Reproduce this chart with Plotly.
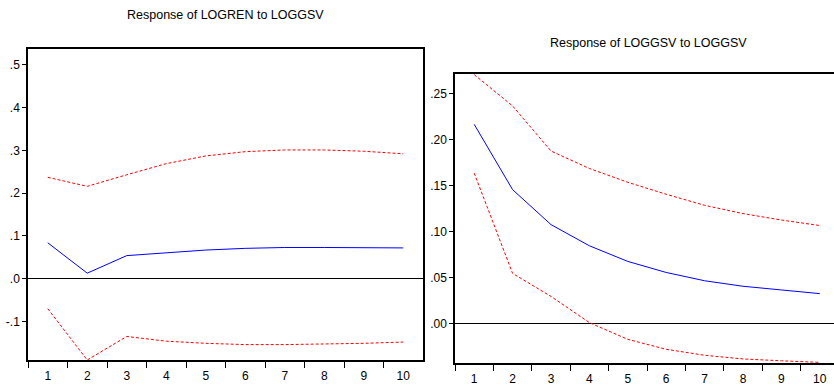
import plotly.graph_objects as go

periods = [str(i) for i in range(1, 11)]

# Response of LOGREN to LOGGSV
ren_resp = [0.084, 0.013, 0.054, 0.061, 0.067, 0.071, 0.073, 0.073, 0.073, 0.072]
ren_upper = [0.237, 0.216, 0.243, 0.269, 0.287, 0.297, 0.301, 0.301, 0.298, 0.292]
ren_lower = [-0.070, -0.190, -0.135, -0.146, -0.151, -0.154, -0.154, -0.153, -0.151, -0.148]

# Response of LOGGSV to LOGGSV
gsv_resp = [0.217, 0.146, 0.108, 0.085, 0.068, 0.056, 0.047, 0.041, 0.037, 0.033]
gsv_upper = [0.271, 0.237, 0.188, 0.169, 0.154, 0.141, 0.129, 0.120, 0.113, 0.107]
gsv_lower = [0.164, 0.055, 0.030, 0.0015, -0.0167, -0.0275, -0.034, -0.038, -0.040, -0.0417]

left_ticks = [-0.1, 0.0, 0.1, 0.2, 0.3, 0.4, 0.5]
left_ticktext = ["-.1", ".0", ".1", ".2", ".3", ".4", ".5"]
right_ticks = [0.0, 0.05, 0.10, 0.15, 0.20, 0.25]
right_ticktext = [".00", ".05", ".10", ".15", ".20", ".25"]

titles = ["Response of LOGREN to LOGGSV", "Response of LOGGSV to LOGGSV"]

W, H = 834, 386
BLUE = "#0000ff"
RED = "#ff0000"
FONT = "Liberation Sans, Arial"

fig = go.Figure()

def add_panel(xa, ya, resp, up, lo):
    fig.add_trace(go.Scatter(x=periods, y=up, mode="lines", xaxis=xa, yaxis=ya,
                             line=dict(color=RED, width=1, dash="3px,2px"), showlegend=False))
    fig.add_trace(go.Scatter(x=periods, y=lo, mode="lines", xaxis=xa, yaxis=ya,
                             line=dict(color=RED, width=1, dash="3px,2px"), showlegend=False))
    fig.add_trace(go.Scatter(x=periods, y=resp, mode="lines", xaxis=xa, yaxis=ya,
                             line=dict(color=BLUE, width=1), showlegend=False))

add_panel("x", "y", ren_resp, ren_upper, ren_lower)
add_panel("x2", "y2", gsv_resp, gsv_upper, gsv_lower)

def px_x(p):
    return p / W

def px_y(p):
    return (H - p) / H

xcommon = dict(type="category", tickson="boundaries", ticks="outside", ticklen=6,
               tickcolor="black", showline=True, linecolor="black", linewidth=1.5,
               mirror=True, showgrid=False, zeroline=False, ticklabelstandoff=4,
               tickfont=dict(family=FONT, size=12, color="black"), automargin=False)
ycommon = dict(ticks="outside", ticklen=4, tickcolor="black", showline=True,
               linecolor="black", linewidth=1.5, showgrid=False,
               zeroline=True, zerolinecolor="black", zerolinewidth=1,
               tickfont=dict(family=FONT, size=12, color="black"), automargin=False)

fig.update_layout(
    width=W, height=H,
    margin=dict(l=0, r=0, t=0, b=0),
    plot_bgcolor="white", paper_bgcolor="white",
    hovermode=False,
    xaxis=dict(xcommon, domain=[px_x(28), px_x(423)], range=[-0.5, 9.5], anchor="y"),
    yaxis=dict(ycommon, domain=[px_y(360), px_y(49)], range=[-0.19, 0.537],
               tickvals=left_ticks, ticktext=left_ticktext, mirror=True, anchor="x"),
    xaxis2=dict(xcommon, domain=[px_x(455), 1.0], range=[-0.5, 9.37], anchor="y2"),
    yaxis2=dict(ycommon, domain=[px_y(363), px_y(74)], range=[-0.0424, 0.2717],
                tickvals=right_ticks, ticktext=right_ticktext, mirror=False, anchor="x2"),
    annotations=[
        dict(text=titles[0], x=px_x(225), y=px_y(15), xref="paper", yref="paper",
             showarrow=False, xanchor="center", yanchor="middle",
             font=dict(family=FONT, size=12.5, color="black")),
        dict(text=titles[1], x=px_x(648), y=px_y(43), xref="paper", yref="paper",
             showarrow=False, xanchor="center", yanchor="middle",
             font=dict(family=FONT, size=12.5, color="black")),
    ],
)

fig.write_html("out.html", config={"displayModeBar": False},
               post_script="document.body.style.margin='0';document.body.style.overflow='hidden';")
